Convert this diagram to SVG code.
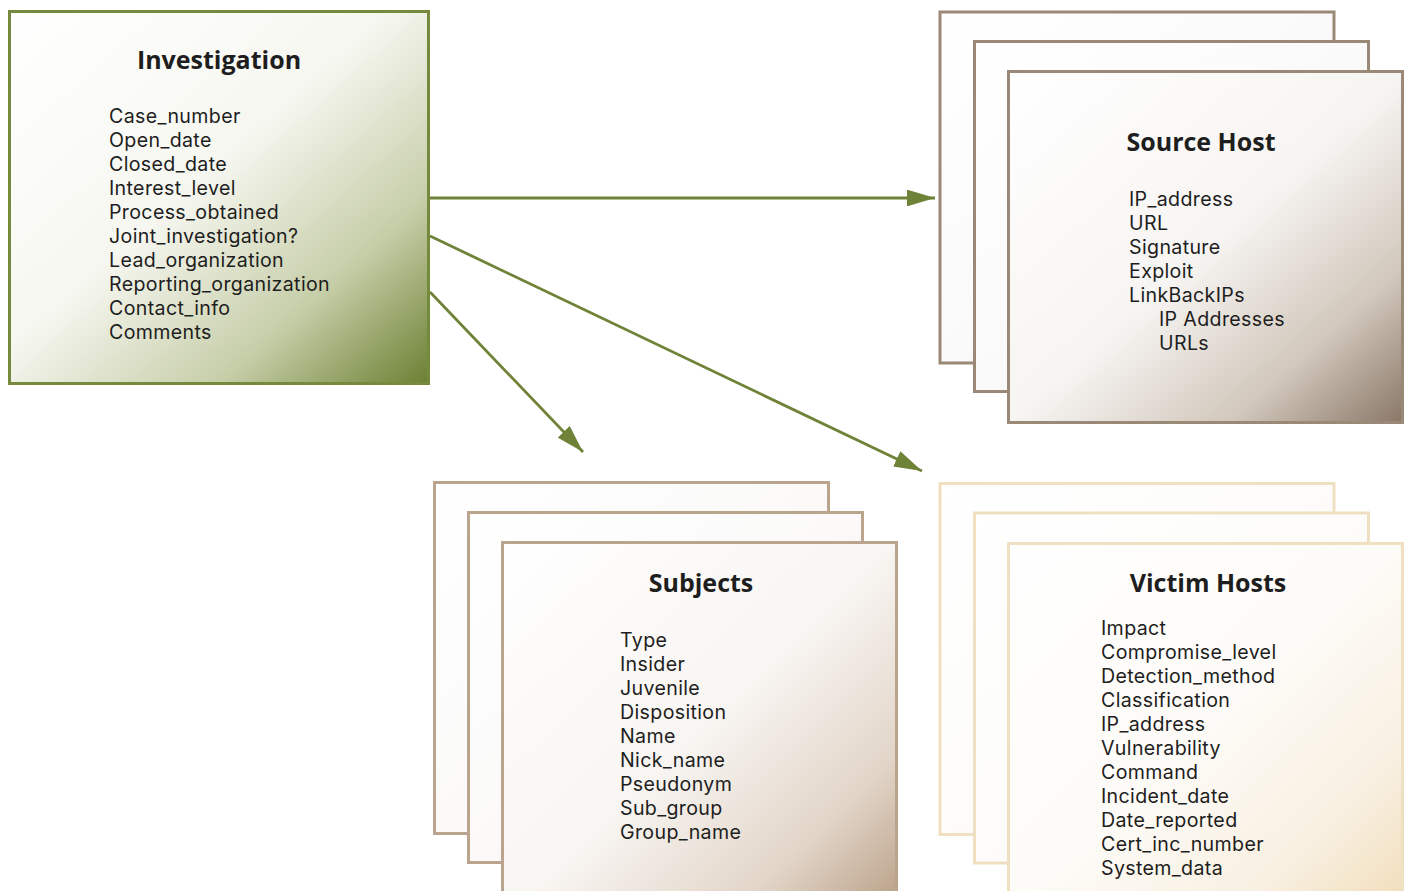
<svg xmlns="http://www.w3.org/2000/svg" width="1405" height="891" viewBox="0 0 1405 891">
<defs>
<linearGradient id="gInv" x1="0" y1="0" x2="1" y2="1">
<stop offset="0" stop-color="#ffffff"/><stop offset="0.45" stop-color="#f7f7f1"/><stop offset="0.75" stop-color="#c6cea8"/><stop offset="1" stop-color="#6c8032"/>
</linearGradient>
<linearGradient id="gSrc" x1="0" y1="0" x2="1" y2="1">
<stop offset="0" stop-color="#ffffff"/><stop offset="0.5" stop-color="#f7f5f3"/><stop offset="0.78" stop-color="#d2c8bc"/><stop offset="1" stop-color="#8a7868"/>
</linearGradient>
<linearGradient id="gSrcB" x1="0" y1="0" x2="1" y2="1">
<stop offset="0" stop-color="#ffffff"/><stop offset="0.5" stop-color="#fafafa"/><stop offset="1" stop-color="#eeeae6"/>
</linearGradient>
<linearGradient id="gSub" x1="0" y1="0" x2="1" y2="1">
<stop offset="0" stop-color="#ffffff"/><stop offset="0.5" stop-color="#f8f5f2"/><stop offset="0.78" stop-color="#e2d5c8"/><stop offset="1" stop-color="#b49a80"/>
</linearGradient>
<linearGradient id="gSubB" x1="0" y1="0" x2="1" y2="1">
<stop offset="0" stop-color="#ffffff"/><stop offset="0.5" stop-color="#fbfaf9"/><stop offset="1" stop-color="#efebe7"/>
</linearGradient>
<linearGradient id="gVic" x1="0" y1="0" x2="1" y2="1">
<stop offset="0" stop-color="#ffffff"/><stop offset="0.5" stop-color="#fdfbf7"/><stop offset="0.78" stop-color="#f8efe0"/><stop offset="1" stop-color="#f0dcb6"/>
</linearGradient>
<linearGradient id="gVicB" x1="0" y1="0" x2="1" y2="1">
<stop offset="0" stop-color="#ffffff"/><stop offset="0.5" stop-color="#fdfcfa"/><stop offset="1" stop-color="#f8f3ea"/>
</linearGradient>
<marker id="arr" viewBox="0 0 10 6" refX="10" refY="3" markerWidth="10" markerHeight="6" markerUnits="strokeWidth" orient="auto">
<path d="M0,0 L10,3 L0,6 Z" fill="#6f8338"/>
</marker>
</defs>
<style>
.t{font-family:"Open Sans","Noto Sans",sans-serif;font-weight:bold;font-size:25px;fill:#1e1e1e;text-anchor:middle}
.f{font-family:Inter,"Open Sans",sans-serif;font-size:19.6px;letter-spacing:0.35px;fill:#1e1e1e}
.inv{stroke:#768a3e;stroke-width:3}
.src{stroke:#9b8978;stroke-width:3}
.sub{stroke:#bba48e;stroke-width:3}
.vic{stroke:#f0e0c2;stroke-width:3}
.c{stroke:#6f8338;stroke-width:2.8;fill:none}
</style>
<rect width="1405" height="891" fill="#ffffff"/>
<g id="connectors">
<line class="c" x1="430" y1="198" x2="935" y2="198" marker-end="url(#arr)"/>
<line class="c" x1="430" y1="236" x2="922" y2="471" marker-end="url(#arr)"/>
<line class="c" x1="430" y1="292" x2="583" y2="452" marker-end="url(#arr)"/>
</g>
<g id="investigation">
<rect class="inv" x="9.5" y="11.5" width="419" height="372" fill="url(#gInv)"/>
<text class="t" x="219" y="69">Investigation</text>
<text class="f" x="109" y="123">Case_number</text>
<text class="f" x="109" y="147">Open_date</text>
<text class="f" x="109" y="171">Closed_date</text>
<text class="f" x="109" y="195">Interest_level</text>
<text class="f" x="109" y="219">Process_obtained</text>
<text class="f" x="109" y="243">Joint_investigation?</text>
<text class="f" x="109" y="267">Lead_organization</text>
<text class="f" x="109" y="291">Reporting_organization</text>
<text class="f" x="109" y="315">Contact_info</text>
<text class="f" x="109" y="339">Comments</text>
</g>
<g id="source-host">
<rect class="src" x="940" y="12" width="394" height="351" fill="url(#gSrcB)"/>
<rect class="src" x="974.5" y="41.5" width="394" height="350" fill="url(#gSrcB)"/>
<rect class="src" x="1008.5" y="71.5" width="394" height="351" fill="url(#gSrc)"/>
<text class="t" x="1201" y="151">Source Host</text>
<text class="f" x="1129" y="206">IP_address</text>
<text class="f" x="1129" y="230">URL</text>
<text class="f" x="1129" y="254">Signature</text>
<text class="f" x="1129" y="278">Exploit</text>
<text class="f" x="1129" y="302">LinkBackIPs</text>
<text class="f" x="1159" y="326">IP Addresses</text>
<text class="f" x="1159" y="350">URLs</text>
</g>
<g id="subjects">
<rect class="sub" x="434.5" y="482.5" width="394" height="351" fill="url(#gSubB)"/>
<rect class="sub" x="468.5" y="512.5" width="394" height="350" fill="url(#gSubB)"/>
<rect class="sub" x="502.5" y="542.5" width="394" height="380" fill="url(#gSub)"/>
<text class="t" x="701" y="592">Subjects</text>
<text class="f" x="620" y="647">Type</text>
<text class="f" x="620" y="671">Insider</text>
<text class="f" x="620" y="695">Juvenile</text>
<text class="f" x="620" y="719">Disposition</text>
<text class="f" x="620" y="743">Name</text>
<text class="f" x="620" y="767">Nick_name</text>
<text class="f" x="620" y="791">Pseudonym</text>
<text class="f" x="620" y="815">Sub_group</text>
<text class="f" x="620" y="839">Group_name</text>
</g>
<g id="victim-hosts">
<rect class="vic" x="940" y="483.5" width="394" height="351" fill="url(#gVicB)"/>
<rect class="vic" x="974.5" y="513" width="394" height="350" fill="url(#gVicB)"/>
<rect class="vic" x="1008.5" y="543.5" width="394" height="380" fill="url(#gVic)"/>
<text class="t" x="1208" y="592">Victim Hosts</text>
<text class="f" x="1101" y="635">Impact</text>
<text class="f" x="1101" y="659">Compromise_level</text>
<text class="f" x="1101" y="683">Detection_method</text>
<text class="f" x="1101" y="707">Classification</text>
<text class="f" x="1101" y="731">IP_address</text>
<text class="f" x="1101" y="755">Vulnerability</text>
<text class="f" x="1101" y="779">Command</text>
<text class="f" x="1101" y="803">Incident_date</text>
<text class="f" x="1101" y="827">Date_reported</text>
<text class="f" x="1101" y="851">Cert_inc_number</text>
<text class="f" x="1101" y="875">System_data</text>
</g>
</svg>
